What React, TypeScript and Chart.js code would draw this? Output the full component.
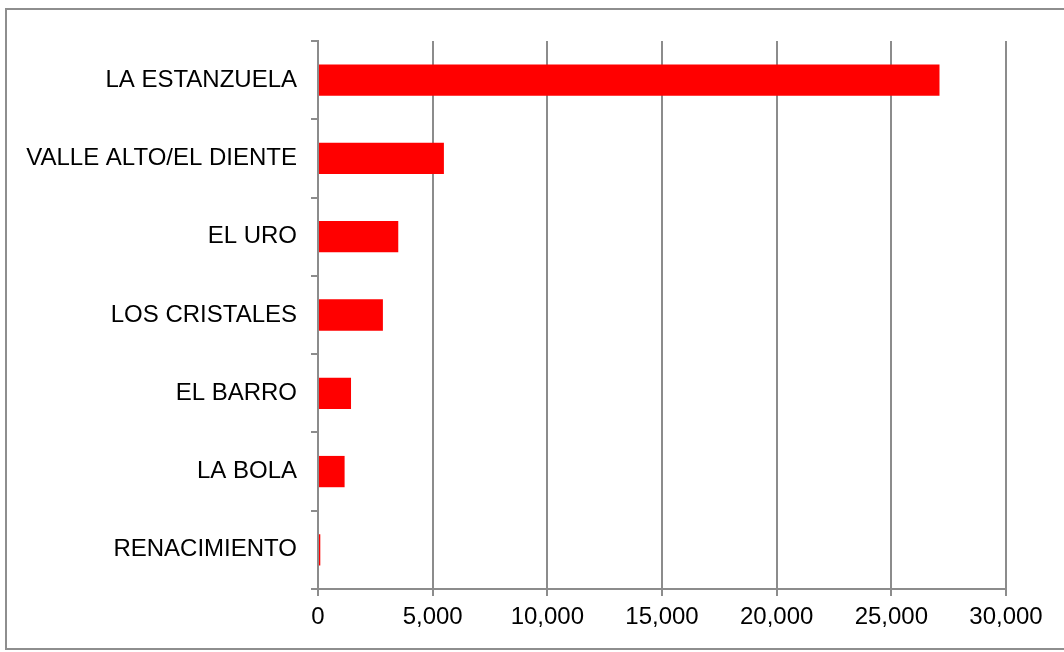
import React, { useEffect, useRef } from "react";
import { Chart, registerables } from "chart.js";

Chart.register(...registerables);

const categories = [
  "LA ESTANZUELA",
  "VALLE ALTO/EL DIENTE",
  "EL URO",
  "LOS CRISTALES",
  "EL BARRO",
  "LA BOLA",
  "RENACIMIENTO",
];
const values = [27100, 5490, 3500, 2830, 1440, 1160, 100];
const xTicks = [0, 5000, 10000, 15000, 20000, 25000, 30000];

const FONT = "'Liberation Sans', Arial, sans-serif";
const GRID = "#8c8c8c";

const framePlugin = {
  id: "frame",
  afterDraw(chart: any) {
    const ctx = chart.ctx;
    ctx.save();
    ctx.strokeStyle = "#8e8e8e";
    ctx.lineWidth = 2;
    ctx.strokeRect(6, 9, 1070, 640);
    ctx.restore();
  },
};

export default function App() {
  const ref = useRef<HTMLCanvasElement | null>(null);
  useEffect(() => {
    if (!ref.current) return;
    const chart = new Chart(ref.current, {
      type: "bar",
      data: {
        labels: categories,
        datasets: [
          {
            data: values,
            backgroundColor: "#ff0000",
            borderWidth: 0,
            barPercentage: 0.4,
            categoryPercentage: 1.0,
          },
        ],
      },
      options: {
        indexAxis: "y",
        animation: false,
        responsive: true,
        maintainAspectRatio: false,
        layout: { padding: { top: 41, right: 58, bottom: 0, left: 0 } },
        plugins: {
          legend: { display: false },
          tooltip: { enabled: false },
        },
        scales: {
          x: {
            min: 0,
            max: 30000,
            afterBuildTicks(scale: any) {
              scale.ticks = xTicks.map((v) => ({ value: v }));
            },
            afterFit(scale: any) {
              scale.height = 63;
            },
            ticks: {
              color: "#000",
              font: { family: FONT, size: 24 },
              padding: 7,
              maxRotation: 0,
              callback: (v: any) => Number(v).toLocaleString("en-US"),
            },
            grid: {
              color: GRID,
              lineWidth: 2,
              tickLength: 7,
              drawTicks: true,
            },
            border: { display: true, color: GRID, width: 2 },
          },
          y: {
            afterFit(scale: any) {
              scale.width = 318;
            },
            ticks: {
              color: "#000",
              font: { family: FONT, size: 24 },
              padding: 14,
            },
            grid: {
              offset: true,
              drawOnChartArea: false,
              drawTicks: true,
              tickLength: 7,
              color: GRID,
              lineWidth: 2,
            },
            border: { display: true, color: GRID, width: 2 },
          },
        },
      },
      plugins: [framePlugin],
    });
    return () => chart.destroy();
  }, []);
  return (
    <div style={{ position: "absolute", left: 0, top: 0, width: 1064, height: 652, background: "#fff" }}>
      <canvas ref={ref} />
    </div>
  );
}
